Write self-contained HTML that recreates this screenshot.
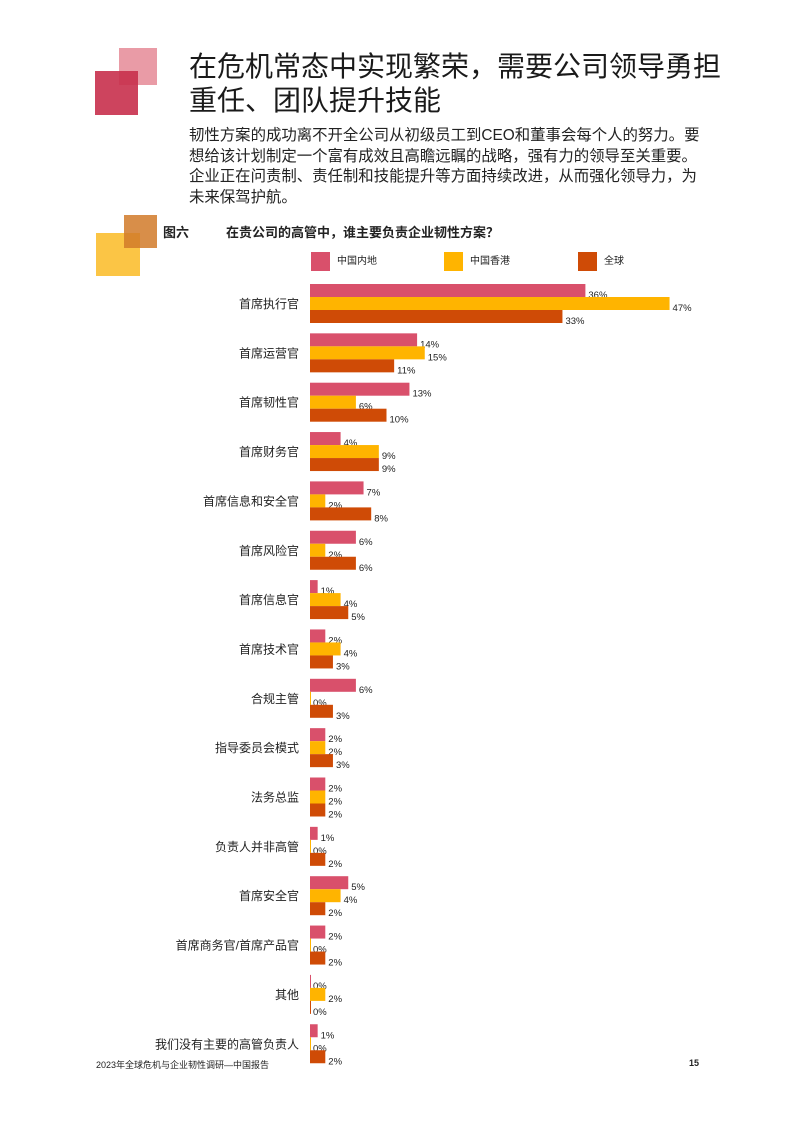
<!DOCTYPE html>
<html><head><meta charset="utf-8"><style>
body{margin:0;width:793px;height:1122px;background:#fff;position:relative;overflow:hidden;font-family:"Liberation Sans","Noto Sans CJK SC",sans-serif;color:#222}
.a{position:absolute}
</style></head><body>
<div class="a" style="left:119px;top:48px;width:38px;height:37px;background:#e58a97;opacity:.85"></div>
<div class="a" style="left:95px;top:71px;width:43px;height:44px;background:#c8304c;opacity:.9"></div>
<div class="a" style="left:189px;top:50px;font-size:28px;line-height:34px;color:#1a1a1a">在危机常态中实现繁荣，需要公司领导勇担<br>重任、团队提升技能</div>
<div class="a" style="left:189px;top:126px;font-size:15.4px;line-height:20.5px;width:520px;color:#222">韧性方案的成功离不开全公司从初级员工到CEO和董事会每个人的努力。要想给该计划制定一个富有成效且高瞻远瞩的战略，强有力的领导至关重要。企业正在问责制、责任制和技能提升等方面持续改进，从而强化领导力，为未来保驾护航。</div>
<div class="a" style="left:96px;top:233px;width:44px;height:43px;background:#fbbf31;opacity:.9"></div>
<div class="a" style="left:124px;top:215px;width:33px;height:33px;background:#d17a29;opacity:.85"></div>
<div class="a" style="left:163px;top:222px;font-size:13px;font-weight:bold">图六</div>
<div class="a" style="left:226px;top:222px;font-size:13px;font-weight:bold">在贵公司的高管中，谁主要负责企业韧性方案？</div>
<div class="a" style="left:311px;top:252px;font-size:10px;line-height:20px"><span style="display:inline-block;width:19px;height:19px;background:#d9506b;vertical-align:middle;margin-right:7px"></span>中国内地</div>
<div class="a" style="left:444px;top:252px;font-size:10px;line-height:20px"><span style="display:inline-block;width:19px;height:19px;background:#ffb400;vertical-align:middle;margin-right:7px"></span>中国香港</div>
<div class="a" style="left:578px;top:252px;font-size:10px;line-height:20px"><span style="display:inline-block;width:19px;height:19px;background:#cf4b06;vertical-align:middle;margin-right:7px"></span>全球</div>
<svg class="a" style="left:0;top:0" width="793" height="1122" id="chart"></svg>
<div class="a" style="left:96px;top:1058px;font-size:9px">2023年全球危机与企业韧性调研—中国报告</div>
<div class="a" style="left:689px;top:1058px;font-size:9px;font-weight:bold">15</div>
<script>
const categories=["首席执行官","首席运营官","首席韧性官","首席财务官","首席信息和安全官","首席风险官","首席信息官","首席技术官","合规主管","指导委员会模式","法务总监","负责人并非高管","首席安全官","首席商务官/首席产品官","其他","我们没有主要的高管负责人"];
const mainland=[36,14,13,4,7,6,1,2,6,2,2,1,5,2,0,1];
const hongkong=[47,15,6,9,2,2,4,4,0,2,2,0,4,0,2,0];
const global=[33,11,10,9,8,6,5,3,3,3,2,2,2,2,0,2];
const seriesList=[["mainland",mainland,"#d9506b"],["hongkong",hongkong,"#ffb400"],["global",global,"#cf4b06"]];
const svg=document.getElementById('chart');
const NS="http://www.w3.org/2000/svg";
const x=v=>310+v*7.65;
const y=i=>284+i*49.35;
categories.forEach((c,i)=>{
  const t=document.createElementNS(NS,'text');
  
  
  t.setAttribute('x',299);t.setAttribute('y',y(i)+24);
  t.setAttribute('text-anchor','end');t.setAttribute('font-size','12');t.setAttribute('fill','#222');
  t.textContent=c;svg.appendChild(t);
  seriesList.forEach(([n,arr,col],k)=>{
    const v=arr[i];const by=y(i)+k*13;
    const r=document.createElementNS(NS,'rect');
    
    
    r.setAttribute('x',310);r.setAttribute('y',by);
    r.setAttribute('width',Math.max(x(v)-310,v===0?1:0));r.setAttribute('height',13);r.setAttribute('fill',col);
    svg.appendChild(r);
    const l=document.createElementNS(NS,'text');
    
    
    l.setAttribute('x',x(v)+3);l.setAttribute('y',by+14);
    l.setAttribute('font-size','9.5');l.setAttribute('fill','#222');
    l.textContent=v+'%';svg.appendChild(l);
  });
});
</script>
</body></html>
